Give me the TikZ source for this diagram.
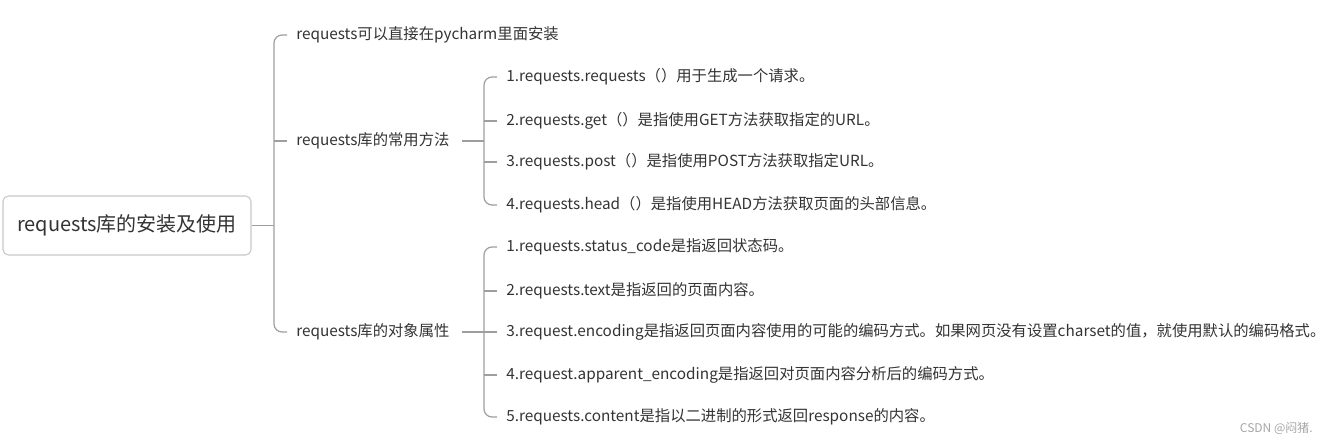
\documentclass[tikz,border=0pt]{standalone}
\usepackage{fontspec}
\setmainfont{Noto Sans CJK SC}
\usetikzlibrary{calc}
\definecolor{txt}{HTML}{333333}
\definecolor{ln}{HTML}{9E9E9E}
\definecolor{bx}{HTML}{C8C8C8}
\begin{document}
\begin{tikzpicture}[x=0.75pt,y=-0.75pt,
  lbl/.style={anchor=west,inner sep=0pt,text=txt,font=\fontsize{11.5pt}{13pt}\selectfont},
  conn/.style={draw=ln,line width=0.9pt,rounded corners=6pt},
  rootbox/.style={draw=bx,line width=0.8pt,rounded corners=4pt,fill=white,minimum width=248*0.75pt,minimum height=59*0.75pt,inner sep=0pt,text=txt,font=\fontsize{15pt}{18pt}\selectfont}]
\useasboundingbox (0,0) rectangle (1328,445);
\node[rootbox] (root) at (127,225.5) {requests库的安装及使用};
\node[lbl] (a1) at (296,35) {requests可以直接在pycharm里面安装};
\node[lbl] (a2) at (296,141) {requests库的常用方法};
\node[lbl] (a3) at (296,332) {requests库的对象属性};
\node[lbl] (b1) at (506,77) {1.requests.requests（）用于生成一个请求。};
\node[lbl] (b2) at (506,121) {2.requests.get（）是指使用GET方法获取指定的URL。};
\node[lbl] (b3) at (506,162) {3.requests.post（）是指使用POST方法获取指定URL。};
\node[lbl] (b4) at (506,205) {4.requests.head（）是指使用HEAD方法获取页面的头部信息。};
\node[lbl] (c1) at (506,247) {1.requests.status\_code是指返回状态码。};
\node[lbl] (c2) at (506,291) {2.requests.text是指返回的页面内容。};
\node[lbl] (c3) at (506,332) {3.request.encoding是指返回页面内容使用的可能的编码方式。如果网页没有设置charset的值，就使用默认的编码格式。};
\node[lbl] (c4) at (506,375) {4.request.apparent\_encoding是指返回对页面内容分析后的编码方式。};
\node[lbl] (c5) at (506,417) {5.requests.content是指以二进制的形式返回response的内容。};
\node[anchor=east,inner sep=0pt,text=black!35,font=\fontsize{9pt}{11pt}\selectfont] (wm) at (1313,428) {CSDN @闷猪.};
% junctions
\coordinate (j1) at (274,225.5);
\coordinate (j2) at (484,141);
\coordinate (j3) at (484,332);
% root trunk
\draw[conn] (root.east) -- (j1);
\draw[conn] ($(a1.west)+(-9,0)$) -| (j1) |- ($(a3.west)+(-9,0)$);
\draw[conn] ($(a2.west)+(-9,0)$) -- ($(a2.west)+(-22,0)$);
% methods
\draw[conn] ($(a2.west)+(166,0)$) -- (j2);
\draw[conn] ($(b1.west)+(-9,0)$) -| (j2) |- ($(b4.west)+(-9,0)$);
\draw[conn] ($(b2.west)+(-9,0)$) -- ($(b2.west)+(-22,0)$);
\draw[conn] ($(b3.west)+(-9,0)$) -- ($(b3.west)+(-22,0)$);
% attributes
\draw[conn] ($(a3.west)+(166,0)$) -- (j3);
\draw[conn] ($(c1.west)+(-9,0)$) -| (j3) |- ($(c5.west)+(-9,0)$);
\draw[conn] ($(c2.west)+(-9,0)$) -- ($(c2.west)+(-22,0)$);
\draw[conn] ($(c3.west)+(-9,0)$) -- ($(c3.west)+(-22,0)$);
\draw[conn] ($(c4.west)+(-9,0)$) -- ($(c4.west)+(-22,0)$);
\end{tikzpicture}
\end{document}
